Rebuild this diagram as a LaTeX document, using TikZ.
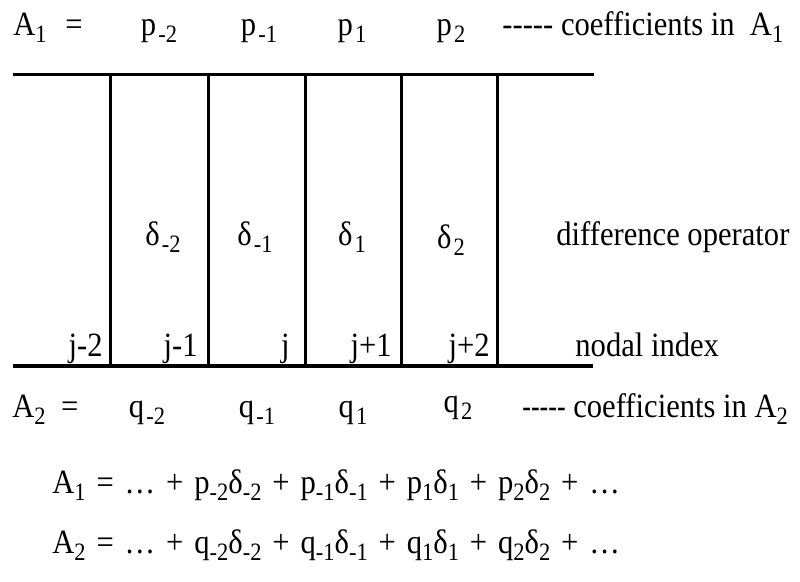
\documentclass[tikz,border=0pt]{standalone}
\usepackage{fontspec}
\setmainfont{Liberation Serif}[FakeStretch=0.9]
\usetikzlibrary{positioning}
\newcommand{\lo}[1]{\raisebox{-0.4ex}{\fontsize{12.5}{13}\selectfont #1}}
\newcommand{\dashrun}[1][1]{\scalebox{#1}[1]{-\kern0pt-\kern0pt-\kern0pt-\kern0pt-}}
\tikzset{
  lbl/.style={font=\fontsize{17}{19}\selectfont, inner sep=0pt, anchor=base},
  lblw/.style={lbl, anchor=base west},
  lble/.style={lbl, anchor=base east},
  eqn/.style={lblw, execute at begin node={\spaceskip=0.32em plus 0.1em}},
  gridline/.style={line width=1.5pt, black}
}

\begin{document}
\begin{tikzpicture}[x=0.5pt, y=-0.5pt]
\useasboundingbox (0,0) rectangle (800,582);
% the two horizontal lines
\coordinate (topL) at (13,75);  \coordinate (topR) at (594,75);
\coordinate (botL) at (13,366); \coordinate (botR) at (593,366);
\draw[gridline] (topL) -- (topR);
\draw[gridline, line width=1.8pt] (botL) -- (botR);
% cell borders
\foreach \x [count=\i] in {110,208,305,401,497} {
  \coordinate (vt\i) at (\x,75);
  \coordinate (vb\i) at (\x,366);
  \draw[gridline] (vt\i) -- (vb\i);
}

% coefficients of A1
\node[lblw] (Aone) at (13,36) {A\lo{1}\hspace{0.55em}=};
\node[lbl] (pm2) at (159,36) {p\kern1pt\lo{-2}};
\node[lbl] (pm1) at (259,36) {p\kern1pt\lo{-1}};
\node[lbl] (pp1) at (352,36) {p\kern1pt\lo{1}};
\node[lbl] (pp2) at (451,36) {p\kern1pt\lo{2}};
\node[lblw] (coefA) at (502,36) {\dashrun\ coefficients in\ \ A\lo{1}};

% difference operators
\node[lbl] (dm2) at (163,246) {δ\kern1pt\lo{-2}};
\node[lbl] (dm1) at (255,246) {δ\kern1pt\lo{-1}};
\node[lbl] (dp1) at (352,246) {δ\kern1pt\lo{1}};
\node[lbl] (dp2) at (451,249) {δ\kern1pt\lo{2}};
\node[lblw] (diffop) at (556,246) {difference operator};

% nodal index
\node[lble] (jm2) at (103,357) {j-2};
\node[lble] (jm1) at (198,357) {j-1};
\node[lble] (j0) at (290,357) {j};
\node[lble] (jp1) at (392,357) {j+1};
\node[lble] (jp2) at (490,357) {j+2};
\node[lblw] (nodal) at (575,357) {nodal index};

% coefficients of A2
\node[lblw] (Atwo) at (12,418) {A\lo{2}\hspace{0.45em}=};
\node[lbl] (qm2) at (147,418) {q\kern1pt\lo{-2}};
\node[lbl] (qm1) at (257,418) {q\kern1pt\lo{-1}};
\node[lbl] (qp1) at (353,418) {q\kern1pt\lo{1}};
\node[lbl] (qp2) at (458,413) {q\kern1pt\lo{2}};
\node[lblw] (coefB) at (522,418) {\dashrun[0.85]\ coefficients in A\lo{2}};

% expansions
\node[eqn] (eqA) at (52,494) {A\lo{1} = … + p\lo{-2}δ\lo{-2} + p\lo{-1}δ\lo{-1} + p\lo{1}δ\lo{1} + p\lo{2}δ\lo{2} + …};
\node[eqn] (eqB) at (52,554) {A\lo{2} = … + q\lo{-2}δ\lo{-2} + q\lo{-1}δ\lo{-1} + q\lo{1}δ\lo{1} + q\lo{2}δ\lo{2} + …};
\end{tikzpicture}
\end{document}
